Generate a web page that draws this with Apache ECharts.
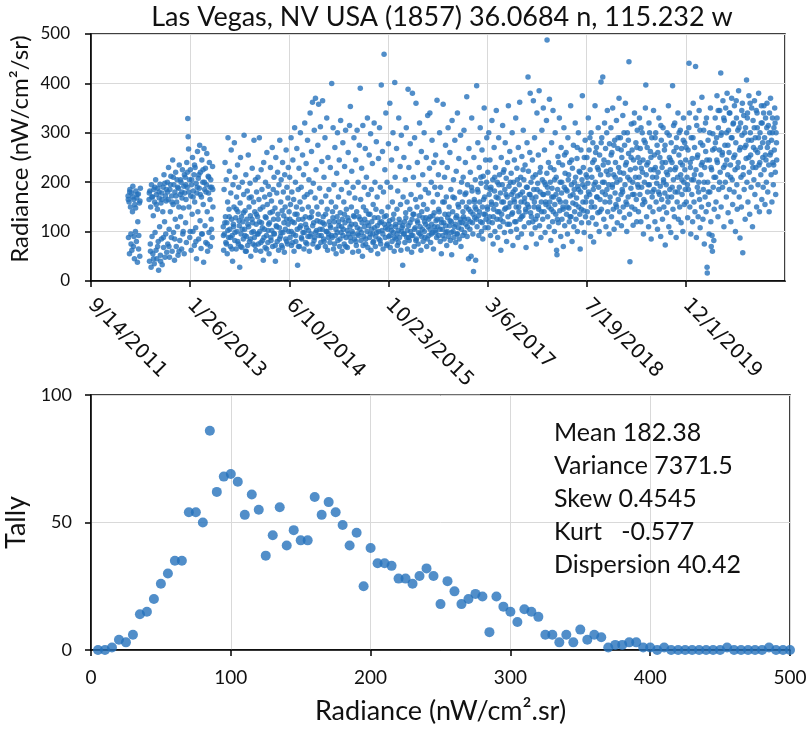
<!DOCTYPE html>
<html>
<head>
<meta charset="utf-8">
<script src="https://cdn.jsdelivr.net/npm/echarts@6/dist/echarts.min.js"></script>
<style>html,body{margin:0;padding:0;background:#fff;}#c{width:810px;height:730px;}</style>
</head>
<body>
<div id="c"></div>
<script>
// ---- Top chart: nightly radiance, x = Excel serial date, y = nW/cm2/sr ----
const obs2012 = [[40987,172],[40989,88],[40992,160],[40994,55],[40996,185],[40999,150],[41001,95],[41004,178],[41006,62],[41009,140],[41011,192],[41014,70],[41016,165],[41019,45],[41021,155],[41024,100],[41026,182],[41029,80],[41031,168],[41034,38],[41036,120],[41039,176],[41041,92],[41044,158],[41046,50],[41049,188],
[41093,165],[41095,40],[41097,182],[41099,75],[41101,150],[41103,28],[41105,195],[41108,90],[41110,170],[41112,55],[41114,132],[41117,185],[41119,35],[41121,160],[41123,98],[41126,205],[41128,62],[41130,175],[41132,45],[41135,145],[41137,188],[41139,80],[41141,22],[41144,168],[41146,110],[41148,196],[41150,52],[41153,158],[41155,85],[41157,178],[41159,33],[41162,140],[41164,190],[41166,68],[41168,215],[41171,120],[41173,48],[41175,172],[41177,95],[41180,185],[41182,58],
[41185,200],[41187,75],[41189,165],[41191,230],[41194,105],[41196,48],[41198,185],[41200,140],[41203,212],[41205,88],[41207,172],[41209,60],[41212,245],[41214,155],[41216,98],[41218,195],[41221,42],[41223,180],[41225,125],[41227,220],[41230,70],[41232,160],[41234,205],[41236,110],[41239,52],[41241,188],[41243,150],[41245,235],[41248,82],[41250,175],[41252,130],[41254,200],[41257,65],[41259,168],[41261,225],[41263,95],[41266,148],[41268,192],[41270,55],[41272,178]];
const obs2012b = [[40988,165],[40995,180],[41002,75],[41010,170],[41017,90],[41025,148],[41032,175],[41040,65],[41047,162],[41094,178],[41100,60],[41107,170],[41115,45],[41122,190],[41129,155],[41136,70],[41143,180],[41151,40],[41158,165],[41165,88],[41172,198],[41179,162],[41186,180],[41193,70],[41201,195],[41208,160],[41215,210],[41222,85],[41229,172],[41237,190],[41244,60],[41251,205],[41258,180],[41265,100],[41271,215]];
const obs2013 = [[41275,210],[41277,118],[41279,165],[41281,78],[41283,240],[41285,190],[41288,329],[41290,292],[41292,267],[41294,150],[41296,205],[41298,88],[41301,225],[41303,172],[41305,62],[41307,195],[41310,135],[41312,250],[41314,100],[41316,182],[41319,215],[41321,72],[41323,160],[41325,230],[41328,108],[41330,198],[41332,45],[41334,178],[41337,262],[41339,140],[41341,208],[41343,85],[41346,188],[41348,275],[41350,122],[41352,220],[41355,66],[41357,170],[41359,245],[41361,95],[41364,200],[41366,155],[41368,38],[41370,268],[41373,185],[41375,112],[41377,228],[41379,78],[41382,195],[41384,258],[41386,140],[41388,60],[41391,212],[41393,178],[41395,98],[41397,240],[41400,165],[41402,70],[41404,205],[41406,125],[41409,190],[41411,88],[41413,232],[41415,150],
[41467,110],[41469,62],[41471,185],[41473,95],[41476,240],[41478,130],[41480,78],[41482,205],[41485,118],[41487,55],[41489,160],[41491,290],[41494,88],[41496,145],[41498,222],[41500,105],[41503,70],[41505,178],[41507,265],[41509,125],[41512,92],[41514,40],[41516,195],[41518,115],[41521,150],[41523,280],[41525,82],[41527,210],[41530,128],[41532,65],[41534,170],[41536,100],[41539,235],[41541,140],[41543,75],[41545,190],[41548,112],[41550,28],[41552,158],[41554,250],[41557,95],[41559,130],[41561,68],[41563,200],[41566,120],[41568,85],[41570,175],[41572,295],[41575,105],[41577,142],[41579,60],[41581,215],[41584,90],[41586,125],[41588,182],[41590,72],[41593,255],[41595,110],[41597,150],[41599,80],[41602,198],[41604,132],[41606,50],[41608,170],[41611,98],[41613,228],[41615,118],[41617,75],[41620,160],[41622,285],[41624,88],[41626,140],[41629,205],[41631,62],[41633,115],[41635,180],[41638,95]];
const obs2013b = [[41278,195],[41286,220],[41293,180],[41300,100],[41308,205],[41315,170],[41322,235],[41329,80],[41336,190],[41344,215],[41351,175],[41358,95],[41365,225],[41372,200],[41380,180],[41387,75],[41394,210],[41401,190],[41408,105],[41414,185],
[41468,92],[41475,118],[41483,75],[41490,102],[41497,130],[41504,88],[41511,65],[41519,110],[41526,98],[41533,145],[41540,80],[41547,122],[41555,70],[41562,105],[41569,138],[41576,92],[41583,60],[41591,115],[41598,168],[41605,85],[41612,125],[41619,100],[41627,72],[41634,135]];
const obs2014 = [[41640,130],[41642,210],[41644,75],[41647,165],[41649,290],[41651,100],[41653,145],[41656,60],[41658,225],[41660,118],[41662,185],[41665,82],[41667,150],[41669,42],[41671,240],[41674,105],[41676,170],[41678,68],[41680,200],[41683,128],[41685,92],[41687,260],[41689,155],[41692,78],[41694,192],[41696,115],[41698,55],[41701,175],[41703,138],[41705,230],[41707,88],[41710,162],[41712,102],[41714,270],[41716,70],[41719,185],[41721,125],[41723,210],[41725,95],[41728,148],[41730,40],[41732,250],[41734,112],[41737,178],[41739,80],[41741,220],[41743,135],[41746,62],[41748,195],[41750,108],[41752,285],[41755,90],[41757,160],[41759,205],[41761,72],[41764,142],[41766,240],[41768,98],[41770,180],[41773,118],[41775,58],[41777,215],[41779,150],[41782,85],[41784,265],[41786,125],[41788,190],[41791,75],[41793,168],[41795,230],[41797,100],[41799,140],
[41802,210],[41804,88],[41806,155],[41809,290],[41811,72],[41813,180],[41815,120],[41818,245],[41820,95],[41822,165],[41824,60],[41827,310],[41829,135],[41831,200],[41833,80],[41836,150],[41838,268],[41840,105],[41842,32],[41845,185],[41847,125],[41849,228],[41851,70],[41854,160],[41856,300],[41858,112],[41860,190],[41863,85],[41865,145],[41867,255],[41869,98],[41872,215],[41874,65],[41876,170],[41878,320],[41881,130],[41883,78],[41885,238],[41887,108],[41890,175],[41892,285],[41894,90],[41896,150],[41899,205],[41901,60],[41903,128],[41905,340],[41908,180],[41910,95],[41912,262],[41914,140],[41917,362],[41919,75],[41921,198],[41923,118],[41926,305],[41928,88],[41930,168],[41932,370],[41935,225],[41937,102],[41939,150],[41941,68],[41944,275],[41946,135],[41948,358],[41950,92],[41953,188],[41955,120],[41957,312],[41959,78],[41962,160],[41964,242],[41966,105],
[41968,365],[41971,130],[41973,85],[41975,210],[41977,115],[41980,290],[41982,70],[41984,172],[41986,100],[41989,330],[41991,145],[41993,62],[41995,250],[41998,95],[42000,185],[42002,120]];
const obs2014b = [[41643,95],[41650,120],[41657,78],[41664,108],[41672,88],[41679,130],[41686,65],[41693,102],[41700,118],[41708,82],[41715,140],[41722,96],[41729,72],[41736,110],[41744,125],[41751,85],[41758,98],[41765,68],[41772,132],[41780,105],[41787,80],[41794,115],[41803,125],[41810,100],[41817,78],[41825,118],[41832,92],[41839,135],[41846,70],[41853,108],[41861,88],[41868,125],[41875,98],[41882,115],[41889,75],[41897,102],[41904,90],[41911,130],[41918,112],[41925,82],[41933,98],[41940,122],[41947,70],[41954,105],[41961,92],[41969,118],[41976,80],[41983,135],[41990,100],[41997,88]];
const obs2015 = [[42005,78],[42007,230],[42009,108],[42012,160],[42014,400],[42016,88],[42018,140],[42021,310],[42023,65],[42025,195],[42027,120],[42030,270],[42032,92],[42034,150],[42036,55],[42039,218],[42041,130],[42043,300],[42045,82],[42048,170],[42050,112],[42052,245],[42054,70],[42057,138],[42059,325],[42061,98],[42063,185],[42066,60],[42068,125],[42070,280],[42072,105],[42075,160],[42077,75],[42079,232],[42081,118],[42084,305],[42086,88],[42088,145],[42090,200],[42093,68],[42095,128],[42097,260],[42099,95],[42102,178],[42104,315],[42106,110],[42108,353],[42111,80],[42113,150],[42115,222],[42117,100],[42120,58],[42122,190],[42124,132],[42126,290],[42129,85],
[42131,168],[42133,115],[42135,245],[42138,72],[42140,140],[42142,305],[42144,95],[42147,200],[42149,60],[42151,130],[42153,275],[42156,105],[42158,390],[42160,165],[42162,82],[42165,228],[42167,118],[42169,50],[42171,315],[42174,150],[42176,90],[42178,190],[42180,125],[42183,268],[42185,75],[42187,142],[42189,210],[42192,100],[42194,330],[42196,68],[42198,175],[42201,112],[42203,255],[42205,88],[42207,135],[42210,298],[42212,62],[42214,185],[42216,120],[42219,238],[42221,95],[42223,155],[42225,80],[42228,320],[42230,108],[42232,200],[42234,70],[42237,145],[42239,282],[42241,98],[42243,170],[42246,55],[42248,128],[42250,248],[42252,85],[42255,310],[42257,118],[42259,190],[42261,75],[42264,397],[42266,140],[42268,102],[42270,262],[42273,65],[42275,180],[42278,459],[42280,115],[42282,225],[42284,88],[42287,340],[42289,132],[42291,72],[42293,200],[42296,105],
[42298,150],[42300,278],[42302,90],[42305,122],[42307,360],[42309,68],[42311,190],[42314,110],[42316,245],[42318,80],[42320,160],[42323,300],[42325,98],[42327,135],[42329,60],[42332,402],[42334,210],[42336,115],[42338,85],[42341,268],[42343,145],[42345,72],[42347,182],[42350,102],[42352,330],[42354,125],[42356,88],[42359,232],[42361,155],[42363,62],[42365,295],[42368,108]];
const obs2015b = [[42006,112],[42013,92],[42020,128],[42028,75],[42035,105],[42042,98],[42049,120],[42056,85],[42064,110],[42071,92],[42078,135],[42085,70],[42092,102],[42100,122],[42107,88],[42114,115],[42121,95],[42128,130],[42136,80],[42143,108],[42150,92],[42157,125],[42164,98],[42172,72],[42179,110],[42186,85],[42193,118],[42200,135],[42208,95],[42215,105],[42222,78],[42229,128],[42236,90],[42244,112],[42251,100],[42258,82],[42265,120],[42272,95],[42279,130],[42286,108],[42294,75],[42301,115],[42308,92],[42315,102],[42322,125],[42330,88],[42337,110],[42344,95],[42351,78],[42358,118],[42366,100]];
const obs2016 = [[42372,32],[42374,170],[42376,95],[42378,250],[42381,120],[42383,78],[42385,205],[42387,138],[42390,310],[42392,88],[42394,160],[42396,65],[42399,388],[42401,112],[42403,230],[42405,82],[42408,145],[42410,278],[42412,100],[42414,175],[42417,58],[42419,125],[42421,380],[42423,92],[42426,210],[42428,135],[42430,70],[42432,290],[42435,108],[42437,165],[42439,360],[42441,85],[42444,150],[42446,240],[42448,118],[42450,75],[42453,195],[42455,132],[42457,320],[42459,95],[42462,170],[42464,62],[42466,262],[42468,140],[42471,105],[42473,215],[42475,80],[42477,155],[42480,300],[42482,120],[42484,88],[42486,185],[42489,128],[42491,250],[42493,70],[42495,145],[42498,335],[42500,110],[42502,178],[42504,92],[42507,228],[42509,340],[42511,130],[42513,78],[42516,200],[42518,115],[42520,285],[42522,98],[42525,160],[42527,65],[42529,240],[42531,138],[42534,190],
[42536,102],[42538,255],[42540,122],[42543,88],[42545,366],[42547,175],[42549,110],[42552,215],[42554,92],[42556,140],[42558,300],[42561,80],[42563,190],[42565,125],[42567,55],[42570,240],[42572,105],[42574,160],[42576,358],[42579,118],[42581,85],[42583,210],[42585,135],[42588,275],[42590,98],[42592,170],[42594,72],[42597,230],[42599,128],[42601,310],[42603,90],[42606,150],[42608,112],[42610,260],[42612,82],[42615,185],[42617,120],[42619,53],[42621,325],[42624,140],[42626,100],[42628,205],[42630,88],[42633,168],[42635,285],[42637,115],[42639,78],[42642,222],[42644,132],[42646,95],[42648,340],[42651,155],[42653,108],[42655,248],[42657,85],[42660,180],[42662,125],[42664,295],[42666,70],[42669,200],[42671,118],[42673,160],[42675,92],
[42677,210],[42679,130],[42681,305],[42684,98],[42686,175],[42688,240],[42690,115],[42693,150],[42695,373],[42697,90],[42699,195],[42702,125],[42704,45],[42706,268],[42708,160],[42711,105],[42713,220],[42715,140],[42717,50],[42720,330],[42722,182],[42724,118],[42726,95],[42729,19],[42731,250],[42733,165],[42735,128]];
const obs2016b = [[42373,112],[42380,95],[42388,128],[42395,102],[42402,88],[42409,118],[42416,92],[42424,135],[42431,105],[42438,82],[42445,122],[42452,98],[42460,110],[42467,90],[42474,128],[42481,100],[42488,115],[42496,85],[42503,125],[42510,105],[42517,95],[42524,132],[42532,110],[42539,98],[42546,125],[42553,145],[42560,105],[42568,118],[42575,92],[42582,160],[42589,112],[42596,100],[42604,135],[42611,122],[42618,98],[42625,170],[42632,110],[42640,128],[42647,95],[42654,150],[42661,118],[42668,105],[42676,140],[42683,125],[42691,178],[42698,110],[42705,145],[42712,120],[42719,190],[42727,135],[42734,160]];
const obs2017 = [[42738,205],[42740,42],[42742,145],[42745,395],[42747,110],[42749,185],[42751,280],[42754,132],[42756,92],[42758,230],[42760,160],[42763,310],[42765,120],[42767,198],[42769,100],[42772,265],[42774,150],[42776,85],[42778,212],[42781,135],[42783,350],[42785,170],[42787,108],[42790,245],[42792,125],[42794,190],[42796,290],
[42799,150],[42801,220],[42803,108],[42806,300],[42808,175],[42810,130],[42812,245],[42815,92],[42817,190],[42819,160],[42822,325],[42824,118],[42826,205],[42828,75],[42831,145],[42833,270],[42835,182],[42837,100],[42840,230],[42842,155],[42844,345],[42847,125],[42849,200],[42851,88],[42853,168],[42856,290],[42858,140],[42860,215],[42862,110],[42865,178],[42867,62],[42869,250],[42871,135],[42874,195],[42876,315],[42878,120],[42880,160],[42883,225],[42885,98],[42887,185],[42889,280],[42892,148],[42894,208],[42896,80],[42899,170],[42901,240],[42903,130],[42905,355],[42908,192],[42910,115],[42912,262],[42914,158],[42917,100],[42919,218],[42921,175],[42924,300],[42926,138],[42928,72],[42930,200],[42933,165],[42935,245],[42937,120],[42939,185],[42942,330],[42944,150],[42946,105],[42948,228],[42951,172],[42953,88],[42955,270],[42958,140],[42960,195],[42962,362],[42964,125],[42967,210],[42969,160],[42971,95],[42973,252],[42976,180],[42978,132],[42980,305],[42983,205],[42985,110],[42987,168],[42989,235],[42992,145],[42994,68],[42996,190],[42999,280],[43001,155],[43004,413],[43006,222],[43008,118],[43010,175],[43013,260],
[43015,380],[43017,138],[43019,200],[43022,95],[43024,168],[43026,245],[43028,120],[43031,365],[43033,185],[43035,150],[43037,290],[43040,108],[43042,215],[43044,170],[43046,75],[43049,340],[43051,132],[43053,198],[43056,255],[43058,145],[43060,385],[43062,112],[43065,180],[43067,230],[43069,88],[43071,160],[43074,305],[43076,205],[43078,125],[43081,350],[43083,175],[43085,140],[43087,265],[43090,98],[43092,195],[43094,155],[43097,325],[43099,218],[43100,488]];
const obs2017b = [[42737,150],[42744,125],[42752,180],[42759,140],[42766,210],[42773,118],[42780,165],[42788,135],[42795,200],[42800,145],[42807,120],[42814,185],[42821,155],[42829,130],[42836,210],[42843,170],[42850,140],[42857,195],[42864,125],[42872,160],[42879,220],[42886,145],[42893,175],[42900,115],[42907,150],[42915,200],[42922,135],[42929,180],[42936,160],[42943,120],[42950,205],[42957,150],[42965,175],[42972,130],[42979,225],[42986,160],[42993,140],[43000,190],[43007,150],[43014,175],[43021,130],[43029,210],[43036,160],[43043,125],[43050,185],[43057,150],[43064,220],[43072,140],[43079,175],[43086,200],[43093,160]];
const obs2018 = [[43103,130],[43105,178],[43107,240],[43110,110],[43112,368],[43114,160],[43116,200],[43119,82],[43121,145],[43123,280],[43125,188],[43128,120],[43130,345],[43132,170],[43135,225],[43137,100],[43139,155],[43141,300],[43144,135],[43146,210],[43148,62],[43150,53],[43153,185],[43155,252],[43157,118],[43160,165],[43162,330],[43164,142],[43166,200],[43169,90],[43171,270],[43173,178],[43175,125],[43178,235],[43180,150],[43182,70],[43185,310],[43187,190],[43189,112],[43191,218],[43194,160],[43196,260],[43198,135],[43201,182],[43203,95],[43205,290],[43207,205],[43210,148],[43212,120],[43214,240],[43217,172],[43219,355],[43221,130],[43223,195],[43226,80],[43228,228],[43230,158],[43233,275],[43235,110],[43237,185],[43239,140],[43242,320],[43244,210],[43246,125],[43249,168],[43251,248],[43253,100],[43255,192],[43258,300],[43260,150],[43262,222],[43265,135],[43267,65],[43269,180],[43271,265],[43274,118],[43276,205],[43278,375],[43281,160],[43283,230],[43285,142],[43287,98],[43290,190],[43292,285],[43294,130],[43297,215],[43299,170],
[43301,250],[43303,140],[43306,198],[43308,330],[43310,118],[43312,265],[43315,175],[43317,225],[43319,90],[43322,300],[43324,160],[43326,210],[43328,128],[43331,280],[43333,185],[43335,79],[43338,245],[43340,150],[43342,355],[43344,200],[43347,115],[43349,270],[43351,170],[43354,230],[43356,138],[43358,310],[43360,190],[43363,100],[43365,255],[43367,165],[43370,215],[43372,403],[43374,145],[43376,290],[43379,180],[43381,413],[43383,235],[43386,125],[43388,200],[43390,320],[43392,160],[43395,268],[43397,110],[43399,222],[43402,185],[43404,345],[43406,140],[43408,240],[43411,195],[43413,95],[43415,278],
[43418,170],[43420,225],[43422,310],[43425,130],[43427,260],[43429,190],[43431,350],[43434,145],[43436,215],[43438,105],[43441,285],[43443,178],[43445,240],[43447,155],[43450,325],[43452,200],[43454,118],[43457,268],[43459,165],[43461,230],[43463,370]];
const obs2018b = [[43102,190],[43109,150],[43117,230],[43124,170],[43131,140],[43138,205],[43145,175],[43152,125],[43159,240],[43167,160],[43174,200],[43181,145],[43188,255],[43195,185],[43202,150],[43209,215],[43216,130],[43224,245],[43231,175],[43238,200],[43245,155],[43252,270],[43259,185],[43266,220],[43273,145],[43280,195],[43288,250],[43295,160],[43302,210],[43309,180],[43316,290],[43323,150],[43330,240],[43337,195],[43345,260],[43352,170],[43359,225],[43366,140],[43373,280],[43380,200],[43387,245],[43394,175],[43401,300],[43409,215],[43416,160],[43423,255],[43430,195],[43437,275],[43444,210],[43451,150],[43458,290]];
const obs2019 = [[43466,140],[43468,205],[43470,290],[43473,175],[43475,112],[43477,250],[43479,185],[43482,335],[43484,150],[43486,218],[43489,128],[43491,275],[43493,195],[43495,360],[43498,160],[43500,240],[43502,100],[43505,300],[43507,210],[43509,170],[43511,258],[43513,444],[43516,135],[43518,39],[43520,225],[43523,188],[43525,318],[43527,150],[43529,265],[43532,200],[43534,113],[43536,245],[43539,175],[43541,340],[43543,145],[43545,228],[43548,280],[43550,165],[43552,120],[43555,305],[43557,195],
[43559,250],[43561,140],[43564,210],[43566,330],[43568,175],[43570,268],[43573,120],[43575,228],[43577,190],[43580,300],[43582,155],[43584,245],[43586,95],[43589,285],[43591,200],[43593,160],[43596,350],[43598,397],[43600,215],[43602,130],[43605,270],[43607,180],[43609,240],[43612,110],[43614,320],[43616,195],[43618,150],[43621,262],[43623,225],[43625,85],[43628,290],[43630,170],[43632,210],[43634,140],[43637,345],[43639,185],[43641,255],[43644,120],[43646,230],[43648,300],[43650,160],[43653,198],[43655,275],[43657,105],[43660,220],[43662,180],[43664,330],[43666,145],[43669,250],[43671,192],[43673,90],[43676,285],[43678,165],[43680,230],[43682,125],[43685,310],[43687,205],[43689,150],[43692,265],[43694,178],[43696,73],[43698,240],[43701,195],[43703,138],[43705,300],[43708,215],[43710,160],[43712,355],[43714,110],[43717,250],[43719,185],[43721,225],[43724,98],[43726,280],[43728,170],[43730,240],[43733,395],[43735,145],[43737,205],[43740,262],[43742,130],[43744,320],[43746,180],[43749,230],[43751,88],[43753,290],[43756,160],[43758,210],[43760,340],[43762,125],[43765,255],[43767,190],[43769,150],[43772,305],[43774,215],[43776,118],[43778,268],[43781,175],[43783,235],[43785,100],[43788,330],[43790,200],[43792,155],[43794,280],[43797,185],[43799,245],
[43802,160],[43804,300],[43806,210],[43809,128],[43811,265],[43813,185],[43816,441],[43818,340],[43820,150],[43823,230],[43825,95],[43827,290],[43830,175]];
const obs2019b = [[43467,220],[43474,265],[43481,180],[43488,300],[43496,235],[43503,155],[43510,285],[43517,205],[43524,250],[43531,175],[43538,320],[43546,210],[43553,270],[43560,190],[43567,240],[43574,310],[43581,220],[43588,165],[43595,280],[43603,235],[43610,195],[43617,300],[43624,250],[43631,180],[43638,225],[43645,290],[43652,210],[43659,260],[43667,175],[43674,315],[43681,240],[43688,200],[43695,275],[43702,220],[43709,170],[43716,295],[43723,245],[43731,190],[43738,315],[43745,225],[43752,270],[43759,180],[43766,300],[43773,240],[43780,205],[43787,285],[43795,225],[43801,270],[43808,195],[43815,310],[43822,240],[43829,205]];
const obs2020 = [[43832,248],[43834,120],[43837,360],[43839,205],[43841,160],[43844,270],[43846,140],[43849,434],[43851,225],[43853,88],[43855,315],[43858,190],[43860,255],[43862,130],[43865,200],[43867,345],[43869,165],[43872,108],[43874,280],[43876,215],[43879,150],[43881,372],[43883,240],[43886,125],[43888,185],[43890,305],[43893,75],[43895,230],[43897,170],[43900,262],[43902,140],[43904,330],[43907,28],[43908,16],[43910,200],[43912,285],[43914,155],[43917,95],[43919,245],[43921,180],[43924,350],[43926,120],[43928,70],[43930,225],[43932,92],[43934,60],[43936,298],[43938,190],[43941,82],[43943,145],[43945,268],
[43948,330],[43950,210],[43952,160],[43955,290],[43957,375],[43959,240],[43962,130],[43964,310],[43966,185],[43969,265],[43971,345],[43973,220],[43976,421],[43978,150],[43980,300],[43983,255],[43985,190],[43987,365],[43990,230],[43992,110],[43994,325],[43997,275],[43999,200],[44001,350],[44004,170],[44006,245],[44008,380],[44011,215],[44013,138],[44015,305],[44018,260],[44020,185],[44022,340],[44025,235],[44027,120],[44029,290],[44031,370],[44034,205],[44036,155],[44038,318],[44041,250],[44043,180],[44045,355],[44048,225],[44050,100],[44052,280],[44055,330],[44057,195],[44059,145],[44062,305],[44064,240],[44066,385],[44069,170],[44071,265],[44073,87],[44076,320],[44078,210],[44080,150],[44083,295],[44085,360],[44087,57],[44090,230],[44092,335],[44094,185],[44097,270],[44099,125],[44101,310],[44104,248],[44106,407],[44108,200],[44111,340],[44113,160],[44115,285],[44118,375],[44120,220],[44122,135],[44125,300],[44127,255],[44129,190],[44132,350],[44134,240],[44136,110],[44139,325],[44141,270],[44143,205],[44146,365],[44148,175],[44150,290],[44153,230],[44155,345],[44157,150],[44160,310],[44162,260],[44164,195],[44167,380],[44169,235],[44171,140],[44174,300],[44176,270],[44178,215],[44181,355],[44183,165],[44185,320],[44188,250],[44190,190],[44192,340],[44195,225]];
const obs2020b = [[43836,290],[43843,215],[43850,330],[43857,250],[43864,180],[43871,305],[43878,235],[43885,275],[43892,200],[43899,320],[43906,245],[43913,180],[43920,300],[43927,230],[43935,265],[43942,210],[43949,280],[43956,245],[43963,345],[43970,200],[43977,295],[43984,260],[43991,330],[43998,235],[44005,300],[44012,275],[44019,340],[44026,210],[44033,290],[44040,320],[44047,255],[44054,365],[44061,230],[44068,310],[44075,270],[44082,345],[44089,215],[44096,300],[44103,275],[44110,330],[44117,250],[44124,360],[44131,285],[44138,230],[44145,310],[44152,265],[44159,340],[44166,290],[44173,240],[44180,320],[44187,280],[44194,355],[44201,255],[44208,310],[44215,280],[44222,340],[44229,260],[44236,300],[44243,235],[44250,320],[44257,280]];
const obs2021 = [[44197,290],[44199,155],[44202,330],[44204,245],[44206,200],[44209,360],[44211,270],[44213,180],[44216,315],[44218,235],[44220,140],[44223,300],[44225,255],[44227,370],[44230,215],[44232,285],[44234,160],[44237,330],[44239,240],[44241,195],[44244,310],[44246,265],[44248,350],[44251,220],[44253,175],[44255,300],[44258,245],[44260,330]];

// ---- Bottom chart: histogram tally (bin centre, count) ----
const binCentres = [5,10,15,20,25,30,35,40,45,50,55,60,65,70,75,80,85,90,95,100,105,110,115,120,125,130,135,140,145,150,155,160,165,170,175,180,185,190,195,200,205,210,215,220,225,230,235,240,245,250,255,260,265,270,275,280,285,290,295,300,305,310,315,320,325,330,335,340,345,350,355,360,365,370,375,380,385,390,395,400,405,410,415,420,425,430,435,440,445,450,455,460,465,470,475,480,485,490,495,500];
const tally = [0,0,1,4,3,6,14,15,20,26,30,35,35,54,54,50,86,62,68,69,66,53,61,55,37,45,56,41,47,43,43,60,53,58,54,49,41,46,25,40,34,34,33,28,28,26,29,32,29,18,27,23,18,20,22,21,7,21,17,15,11,16,15,13,6,6,3,6,3,8,4,6,5,1,2,2,3,3,1,1,0,1,0,0,0,0,0,0,0,0,1,0,0,0,0,0,1,0,0,0];

const titleText = 'Las Vegas, NV USA (1857) 36.0684 n, 115.232 w';
const topYName = 'Radiance (nW/cm²/sr)';
const statsLines = ['Mean 182.38', 'Variance 7371.5', 'Skew 0.4545', 'Kurt   -0.577', 'Dispersion 40.42'];
const dateTicks = { min: 40800, max: 44300, step: 500 };

const nightly = [].concat(obs2012, obs2012b, obs2013, obs2013b, obs2014, obs2014b, obs2015, obs2015b,
  obs2016, obs2016b, obs2017, obs2017b, obs2018, obs2018b, obs2019, obs2019b, obs2020, obs2020b, obs2021);
const histPoints = binCentres.map((b, i) => [b, tally[i]]);

function serialToDate(v) {
  const d = new Date(Math.round((v - 25569) * 86400000));
  return (d.getUTCMonth() + 1) + '/' + d.getUTCDate() + '/' + d.getUTCFullYear();
}

const BLUE = '#2672bb';
const FONT = 'Lato';
const INK = '#111';
const gridLine = { show: true, lineStyle: { color: '#d9d9d9', width: 1 } };
const axLine = { show: true, lineStyle: { color: '#000', width: 1.5 } };
const axTick = { show: true, inside: false, length: 6, lineStyle: { color: '#000', width: 1.5 } };

const chart = echarts.init(document.getElementById('c'), null, { renderer: 'canvas' });
chart.setOption({
  animation: false,
  backgroundColor: '#fff',
  grid: [
    { left: 91, right: 25, top: 34, height: 247, show: true, borderColor: '#000', borderWidth: 1.5,
      containLabel: false, outerBoundsMode: 'none' },
    { left: 91, right: 20, top: 395, height: 255, show: true, borderColor: '#000', borderWidth: 1.5,
      containLabel: false, outerBoundsMode: 'none' }
  ],
  xAxis: [
    { gridIndex: 0, type: 'value', min: dateTicks.min, max: dateTicks.max, interval: dateTicks.step,
      axisLine: axLine, axisTick: axTick, splitLine: gridLine,
      axisLabel: { rotate: -45, margin: 21, fontFamily: 'DejaVu Sans', fontSize: 20, color: INK,
        showMaxLabel: false, formatter: serialToDate } },
    { gridIndex: 1, type: 'value', min: 0, max: 500, interval: 100,
      axisLine: axLine, axisTick: axTick, splitLine: gridLine,
      axisLabel: { margin: 18, fontFamily: FONT, fontSize: 19, color: INK },
      name: 'Radiance (nW/cm².sr)', nameLocation: 'middle', nameGap: 48,
      nameTextStyle: { fontFamily: FONT, fontSize: 27, color: INK } }
  ],
  yAxis: [
    { gridIndex: 0, type: 'value', min: 0, max: 500, interval: 100,
      axisLine: axLine, axisTick: axTick, splitLine: gridLine,
      axisLabel: { margin: 21, fontFamily: FONT, fontSize: 17, color: INK } },
    { gridIndex: 1, type: 'value', min: 0, max: 100, interval: 50,
      axisLine: axLine, axisTick: axTick, splitLine: gridLine,
      axisLabel: { margin: 19, fontFamily: FONT, fontSize: 18, color: INK },
      name: 'Tally', nameLocation: 'middle', nameGap: 52,
      nameTextStyle: { fontFamily: FONT, fontSize: 27, color: INK } }
  ],
  series: [
    { type: 'scatter', xAxisIndex: 0, yAxisIndex: 0, data: nightly, symbol: 'circle', symbolSize: 5.5,
      itemStyle: { color: BLUE }, silent: true, large: false },
    { type: 'scatter', xAxisIndex: 1, yAxisIndex: 1, data: histPoints, symbol: 'circle', symbolSize: 10,
      itemStyle: { color: BLUE }, silent: true, z: 3 }
  ],
  graphic: [
    { type: 'text', x: 442, y: 17, z: 10,
      style: { text: titleText, fontFamily: FONT, fontSize: 27, fill: INK, align: 'center', verticalAlign: 'middle' } },
    { type: 'text', x: 20, y: 149, rotation: Math.PI / 2, z: 10,
      style: { text: topYName, fontFamily: FONT, fontSize: 24, fill: INK, align: 'center', verticalAlign: 'middle' } },
    { type: 'rect', shape: { x: 370, y: 388, width: 110, height: 6.2 }, z: 100, style: { fill: '#fff' } }
  ].concat(statsLines.map((t, i) => ({
    type: 'text', x: 554, y: 433 + i * 33, z: 10,
    style: { text: t, fontFamily: FONT, fontSize: 25, fill: INK, align: 'left', verticalAlign: 'middle' }
  })))
});
</script>
</body>
</html>
